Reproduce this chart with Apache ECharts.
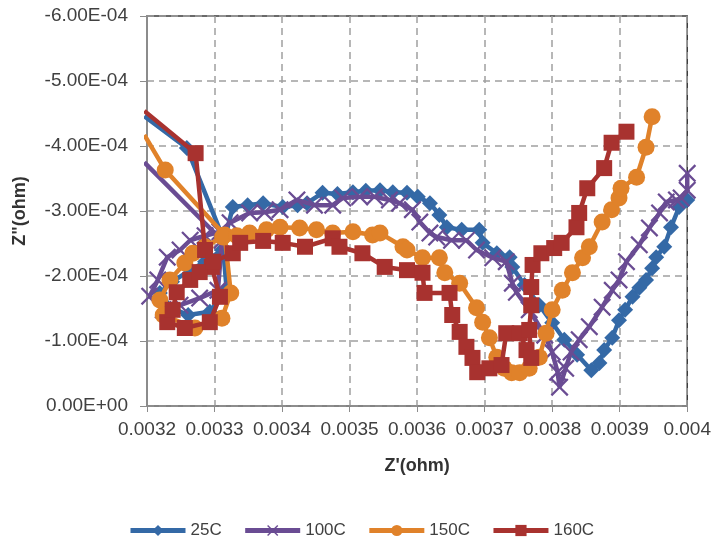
<!DOCTYPE html>
<html>
<head>
<meta charset="utf-8">
<script src="https://cdn.jsdelivr.net/npm/echarts@6/dist/echarts.min.js"></script>
<style>html,body{margin:0;padding:0;background:#fff}#c{width:714px;height:545px}</style>
</head>
<body>
<div id="c"></div>
<script>
// ---- data (Z' in ohm, Z'' in ohm) ----
const seriesNames = ['25C', '100C', '150C', '160C'];
const xTicks = [0.0032, 0.0033, 0.0034, 0.0035, 0.0036, 0.0037, 0.0038, 0.0039, 0.004];
const yTicks = [0, -1e-4, -2e-4, -3e-4, -4e-4, -5e-4, -6e-4];

const x25 = [0.003196, 0.003259, 0.003311, 0.003318, 0.003293, 0.003261, 0.003227, 0.003219, 0.003237, 0.003264, 0.003286, 0.003311, 0.003327, 0.003349, 0.003372, 0.003401, 0.003423, 0.003437, 0.003460, 0.003482, 0.003505, 0.003524, 0.003545, 0.003564, 0.003585, 0.003601, 0.003619, 0.003633, 0.003644, 0.003666, 0.003692, 0.003697, 0.003718, 0.003737, 0.003741, 0.003759, 0.003781, 0.003800, 0.003818, 0.003837, 0.003858, 0.003870, 0.003877, 0.003889, 0.003899, 0.003908, 0.003919, 0.003929, 0.003939, 0.003948, 0.003954, 0.003966, 0.003976, 0.003988, 0.004000];
const y25 = [-4.46e-4, -3.97e-4, -2.63e-4, -1.79e-4, -1.45e-4, -1.40e-4, -1.55e-4, -1.74e-4, -1.91e-4, -2.09e-4, -2.22e-4, -2.40e-4, -3.06e-4, -3.09e-4, -3.12e-4, -3.06e-4, -3.09e-4, -3.12e-4, -3.28e-4, -3.26e-4, -3.29e-4, -3.31e-4, -3.32e-4, -3.29e-4, -3.28e-4, -3.22e-4, -3.12e-4, -2.94e-4, -2.75e-4, -2.71e-4, -2.71e-4, -2.51e-4, -2.35e-4, -2.29e-4, -2.14e-4, -1.86e-4, -1.55e-4, -1.28e-4, -1.02e-4, -0.79e-4, -0.55e-4, -0.66e-4, -0.86e-4, -1.05e-4, -1.32e-4, -1.48e-4, -1.68e-4, -1.82e-4, -1.94e-4, -2.12e-4, -2.29e-4, -2.45e-4, -2.75e-4, -3.06e-4, -3.17e-4];

const x100 = [0.003196, 0.003311, 0.003305, 0.003278, 0.003249, 0.003224, 0.003204, 0.003216, 0.003230, 0.003249, 0.003264, 0.003286, 0.003308, 0.003323, 0.003352, 0.003374, 0.003397, 0.003422, 0.003448, 0.003475, 0.003490, 0.003515, 0.003537, 0.003559, 0.003574, 0.003593, 0.003604, 0.003619, 0.003629, 0.003651, 0.003673, 0.003688, 0.003712, 0.003732, 0.003741, 0.003747, 0.003766, 0.003789, 0.003800, 0.003808, 0.003811, 0.003820, 0.003828, 0.003840, 0.003855, 0.003874, 0.003889, 0.003899, 0.003910, 0.003929, 0.003944, 0.003959, 0.003969, 0.003984, 0.003991, 0.004000, 0.004000];
const y100 = [-3.75e-4, -2.55e-4, -1.78e-4, -1.66e-4, -1.55e-4, -1.48e-4, -1.69e-4, -1.94e-4, -2.29e-4, -2.40e-4, -2.55e-4, -2.62e-4, -2.68e-4, -2.82e-4, -2.97e-4, -2.98e-4, -3.02e-4, -3.17e-4, -3.09e-4, -3.09e-4, -3.20e-4, -3.22e-4, -3.22e-4, -3.17e-4, -3.12e-4, -3.02e-4, -2.83e-4, -2.66e-4, -2.60e-4, -2.55e-4, -2.55e-4, -2.40e-4, -2.28e-4, -2.22e-4, -1.89e-4, -1.75e-4, -1.48e-4, -1.09e-4, -0.83e-4, -0.52e-4, -0.29e-4, -0.58e-4, -0.83e-4, -1.02e-4, -1.22e-4, -1.52e-4, -1.78e-4, -1.94e-4, -2.22e-4, -2.48e-4, -2.74e-4, -2.97e-4, -3.14e-4, -3.17e-4, -3.20e-4, -3.32e-4, -3.58e-4];

const x150 = [0.003196, 0.003227, 0.003315, 0.003324, 0.003311, 0.003271, 0.003224, 0.003219, 0.003234, 0.003256, 0.003268, 0.003286, 0.003312, 0.003333, 0.003352, 0.003377, 0.003397, 0.003426, 0.003451, 0.003475, 0.003505, 0.003534, 0.003545, 0.003579, 0.003585, 0.003608, 0.003633, 0.003641, 0.003663, 0.003688, 0.003697, 0.003707, 0.003718, 0.003729, 0.003740, 0.003752, 0.003766, 0.003781, 0.003791, 0.003800, 0.003815, 0.003830, 0.003845, 0.003855, 0.003874, 0.003888, 0.003899, 0.003902, 0.003925, 0.003939, 0.003948];
const y150 = [-4.17e-4, -3.63e-4, -2.63e-4, -1.74e-4, -1.35e-4, -1.20e-4, -1.40e-4, -1.63e-4, -1.94e-4, -2.20e-4, -2.35e-4, -2.45e-4, -2.60e-4, -2.62e-4, -2.66e-4, -2.71e-4, -2.75e-4, -2.74e-4, -2.71e-4, -2.66e-4, -2.68e-4, -2.63e-4, -2.66e-4, -2.45e-4, -2.40e-4, -2.28e-4, -2.28e-4, -2.05e-4, -1.89e-4, -1.51e-4, -1.29e-4, -1.05e-4, -0.75e-4, -0.58e-4, -0.51e-4, -0.51e-4, -0.58e-4, -0.75e-4, -1.12e-4, -1.48e-4, -1.78e-4, -2.05e-4, -2.28e-4, -2.45e-4, -2.83e-4, -3.02e-4, -3.20e-4, -3.35e-4, -3.52e-4, -3.98e-4, -4.45e-4];

const x160 = [0.003196, 0.003272, 0.003286, 0.003296, 0.003308, 0.003293, 0.003256, 0.003230, 0.003238, 0.003244, 0.003264, 0.003278, 0.003298, 0.003327, 0.003338, 0.003372, 0.003401, 0.003434, 0.003475, 0.003485, 0.003519, 0.003552, 0.003585, 0.003608, 0.003611, 0.003648, 0.003652, 0.003663, 0.003673, 0.003682, 0.003689, 0.003707, 0.003725, 0.003732, 0.003752, 0.003762, 0.003769, 0.003766, 0.003769, 0.003769, 0.003771, 0.003784, 0.003803, 0.003814, 0.003836, 0.003840, 0.003852, 0.003877, 0.003888, 0.003910];
const y160 = [-4.54e-4, -3.89e-4, -2.40e-4, -2.14e-4, -1.68e-4, -1.29e-4, -1.20e-4, -1.29e-4, -1.48e-4, -1.75e-4, -1.94e-4, -2.06e-4, -2.22e-4, -2.35e-4, -2.51e-4, -2.54e-4, -2.51e-4, -2.45e-4, -2.58e-4, -2.45e-4, -2.35e-4, -2.14e-4, -2.09e-4, -2.05e-4, -1.74e-4, -1.74e-4, -1.40e-4, -1.14e-4, -0.91e-4, -0.74e-4, -0.52e-4, -0.58e-4, -0.63e-4, -1.12e-4, -1.12e-4, -0.86e-4, -0.74e-4, -1.17e-4, -1.55e-4, -1.83e-4, -2.17e-4, -2.35e-4, -2.43e-4, -2.51e-4, -2.75e-4, -2.97e-4, -3.35e-4, -3.66e-4, -4.05e-4, -4.22e-4];

// ---- styling ----
const colors = ['#3469A6', '#6A4C93', '#E0822A', '#A8322F'];
const xMark = 'path://M0,0.9 L0.9,0 L5,4.1 L9.1,0 L10,0.9 L5.9,5 L10,9.1 L9.1,10 L5,5.9 L0.9,10 L0,9.1 L4.1,5 Z';
const symbols = ['diamond', xMark, 'circle', 'rect'];
const sizes = [16, 18, 17, 16];
const xs = [x25, x100, x150, x160];
const ys = [y25, y100, y150, y160];

function fmtE(v) {
  if (Math.abs(v) < 1e-12) return '0.00E+00';
  let e = Math.floor(Math.log10(Math.abs(v)) + 1e-9);
  let m = v / Math.pow(10, e);
  const es = (e < 0 ? '-' : '+') + String(Math.abs(e)).padStart(2, '0');
  return m.toFixed(2) + 'E' + es;
}

const FONT = 'Liberation Sans';
const chart = echarts.init(document.getElementById('c'), null, {renderer: 'canvas'});
chart.setOption({
  animation: false,
  backgroundColor: '#ffffff',
  textStyle: {fontFamily: FONT},
  grid: {left: 147, right: 26, top: 16, bottom: 139, show: true, borderColor: '#3a3a3a', borderWidth: 1.5, backgroundColor: 'transparent'},
  legend: {
    data: seriesNames,
    bottom: 1,
    left: 123,
    itemWidth: 55,
    itemHeight: 14,
    itemGap: 21,
    lineStyle: {width: 5},
    textStyle: {fontFamily: FONT, fontSize: 17, color: '#404040'}
  },
  xAxis: {
    type: 'value',
    min: xTicks[0], max: xTicks[xTicks.length - 1], interval: 0.0001,
    name: "Z'(ohm)", nameLocation: 'middle', nameGap: 51,
    nameTextStyle: {fontFamily: FONT, fontSize: 18, fontWeight: 'bold', color: '#333'},
    axisLine: {onZero: false, lineStyle: {color: '#8c8c8c', width: 1.5}},
    axisTick: {show: true, length: 6, lineStyle: {color: '#8c8c8c'}},
    axisLabel: {margin: 14, fontSize: 19, color: '#404040', formatter: v => String(+v.toFixed(4))},
    splitLine: {show: true, lineStyle: {color: '#a0a0a0', width: 1.5, type: [7, 5]}}
  },
  yAxis: {
    type: 'value',
    inverse: true,
    min: yTicks[yTicks.length - 1], max: yTicks[0], interval: 1e-4,
    name: 'Z"(ohm)', nameLocation: 'middle', nameGap: 118, nameRotate: 90,
    nameTextStyle: {fontFamily: FONT, fontSize: 18, fontWeight: 'bold', color: '#333'},
    axisLine: {show: true, lineStyle: {color: '#8c8c8c', width: 2}},
    axisTick: {show: true, length: 7, lineStyle: {color: '#8c8c8c'}},
    axisLabel: {margin: 19, fontSize: 19, color: '#404040', formatter: fmtE},
    splitLine: {show: true, lineStyle: {color: '#a0a0a0', width: 1.5, type: [7, 5]}}
  },
  series: seriesNames.map((n, i) => ({
    name: n,
    type: 'line',
    data: xs[i].map((x, k) => [x, ys[i][k]]),
    symbol: symbols[i],
    symbolSize: sizes[i],
    showAllSymbol: true,
    clip: true,
    lineStyle: {color: colors[i], width: 4.5},
    itemStyle: {color: colors[i], borderColor: colors[i], borderWidth: 0},
    emphasis: {disabled: true},
    z: 2 + i
  }))
});
</script>
</body>
</html>
